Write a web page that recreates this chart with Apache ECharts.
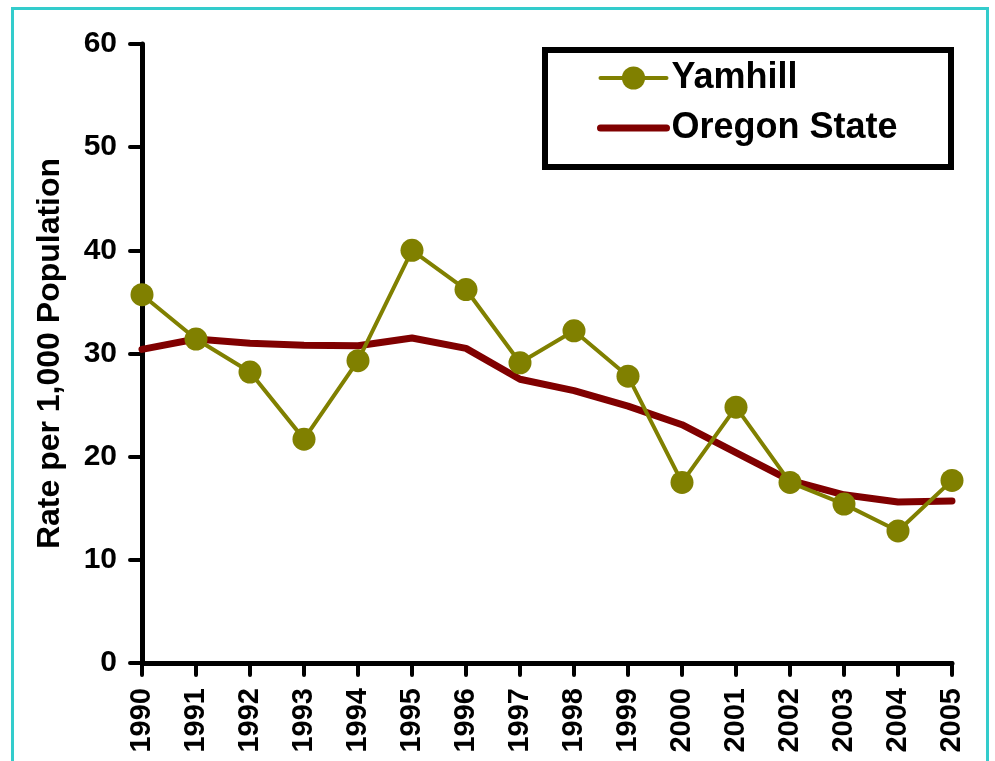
<!DOCTYPE html>
<html>
<head>
<meta charset="utf-8">
<script src="https://cdn.jsdelivr.net/npm/echarts@6/dist/echarts.min.js"></script>
<style>
  html, body { margin: 0; padding: 0; background: #fff; }
  #chart { width: 995px; height: 761px; }
</style>
</head>
<body>
<div id="chart"></div>
<script>
var years = ['1990', '1991', '1992', '1993', '1994', '1995', '1996', '1997',
    '1998', '1999', '2000', '2001', '2002', '2003', '2004', '2005'];
var yamhill = [35.7, 31.4, 28.2, 21.7, 29.3, 40.0, 36.2, 29.1, 32.2, 27.8, 17.5, 24.8, 17.5, 15.4, 12.8, 17.7];
var oregon = [30.4, 31.4, 31.0, 30.8, 30.75, 31.5, 30.5, 27.5, 26.4, 24.9, 23.1, 20.4, 17.7, 16.3, 15.6, 15.7];
var yTicks = [0, 10, 20, 30, 40, 50, 60];

var font = '"Liberation Sans", Arial, sans-serif';
var myChart = echarts.init(document.getElementById('chart'));

var option = {
    backgroundColor: '#fff',
    animation: false,
    graphic: [
        // 外框
        {type: 'rect', shape: {x: 12.5, y: 8.5, width: 975, height: 770}, style: {fill: 'none', stroke: '#33cccc', lineWidth: 3}, z: 0},
        // 图例框
        {type: 'rect', shape: {x: 545, y: 50, width: 406, height: 117}, style: {fill: '#fff', stroke: '#000', lineWidth: 6}, z: 1}
    ],
    grid: {left: 142, right: 43, top: 44, bottom: 98},
    legend: {
        left: 597,
        top: 60,
        padding: 0,
        orient: 'vertical',
        itemWidth: 66,
        itemHeight: 29,
        itemGap: 14,
        lineStyle: {width: 'inherit', cap: 'round'},
        textStyle: {fontFamily: font, fontWeight: 'bold', fontSize: 36, color: '#000'},
        data: [
            {name: 'Yamhill'},
            {name: 'Oregon State', itemStyle: {opacity: 0}}
        ],
        z: 5
    },
    xAxis: {
        type: 'category',
        data: years,
        boundaryGap: false,
        axisLine: {lineStyle: {color: '#000', width: 5, cap: 'round'}},
        axisTick: {show: true, length: 12, lineStyle: {color: '#000', width: 4, cap: 'round'}},
        axisLabel: {rotate: 90, margin: 25, color: '#000', fontFamily: font, fontWeight: 'bold', fontSize: 29, interval: 0},
        splitLine: {show: false}
    },
    yAxis: {
        type: 'value',
        min: yTicks[0],
        max: yTicks[yTicks.length - 1],
        interval: 10,
        name: 'Rate per 1,000 Population',
        nameLocation: 'middle',
        nameRotate: 90,
        nameGap: 76,
        nameTextStyle: {color: '#000', fontFamily: font, fontWeight: 'bold', fontSize: 32},
        axisLine: {show: true, lineStyle: {color: '#000', width: 5, cap: 'round'}},
        axisTick: {show: true, length: 12, lineStyle: {color: '#000', width: 4, cap: 'round'}},
        axisLabel: {margin: 25, color: '#000', fontFamily: font, fontWeight: 'bold', fontSize: 30},
        splitLine: {show: false}
    },
    series: [
        {
            name: 'Oregon State',
            type: 'line',
            data: oregon,
            symbol: 'none',
            lineStyle: {color: '#800000', width: 7, cap: 'round', join: 'round'},
            itemStyle: {color: '#800000'},
            z: 2
        },
        {
            name: 'Yamhill',
            type: 'line',
            data: yamhill,
            symbol: 'circle',
            symbolSize: 23,
            lineStyle: {color: '#808000', width: 4},
            itemStyle: {color: '#808000'},
            z: 3
        }
    ]
};

myChart.setOption(option);
</script>
</body>
</html>
